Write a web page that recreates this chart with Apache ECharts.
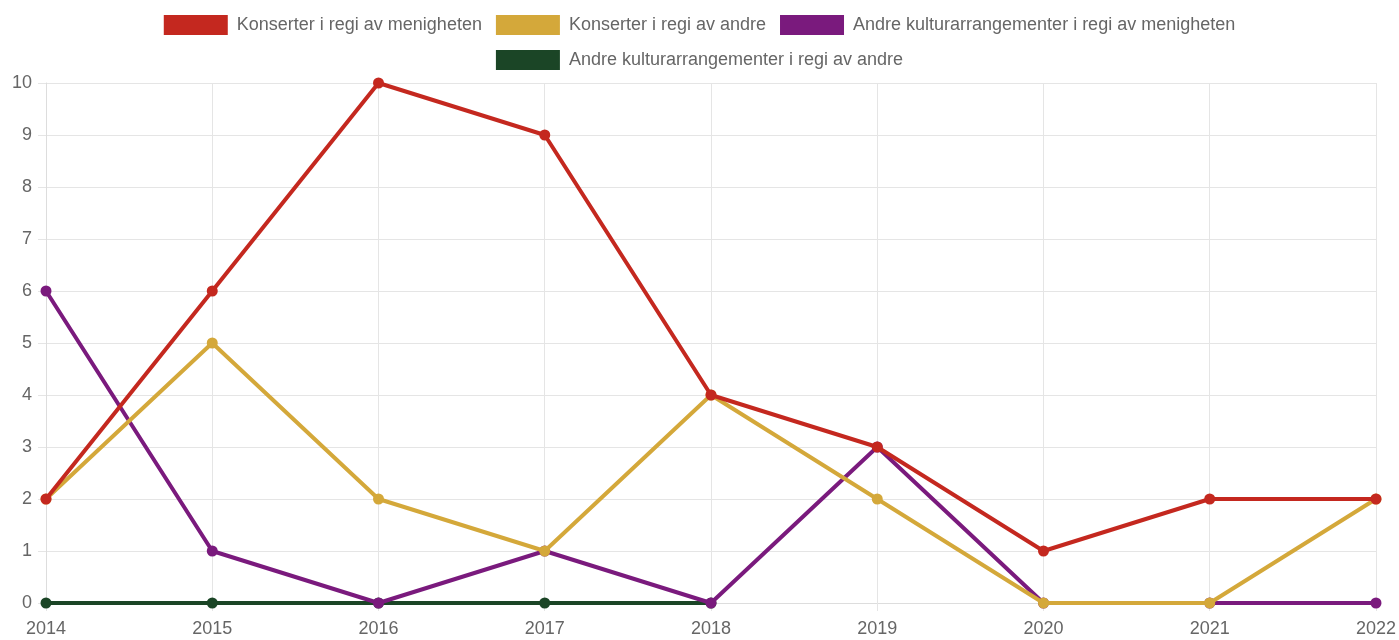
<!DOCTYPE html>
<html><head><meta charset="utf-8">
<script src="https://cdn.jsdelivr.net/npm/echarts@6/dist/echarts.min.js"></script>
<style>html,body{margin:0;padding:0;background:#fff}#c{width:1399px;height:640px}</style>
</head><body><div id="c"></div>
<script>
const years = ['2014','2015','2016','2017','2018','2019','2020','2021','2022'];
const names = ['Konserter i regi av menigheten','Konserter i regi av andre','Andre kulturarrangementer i regi av menigheten','Andre kulturarrangementer i regi av andre'];
const konserterMenigheten = [2,6,10,9,4,3,1,2,2];
const konserterAndre = [2,5,2,1,4,2,0,0,2];
const andreMenigheten = [6,1,0,1,0,3,0,0,0];
const andreAndre = [0,0,0,0,0,null,null,null,null];
const colors = ['#c4281f','#d4a83a','#7a1a7d','#1b4526'];
const font = 'Liberation Sans, Arial, sans-serif';
const chart = echarts.init(document.getElementById('c'));
function ser(i, data, z){
  return {name:names[i], type:'line', data:data, z:z, symbol:'circle', symbolSize:11,
    lineStyle:{width:4,color:colors[i]}, itemStyle:{color:colors[i]}, showSymbol:true, connectNulls:false, animation:false};
}
const legendCommon = {itemWidth:64,itemHeight:20,itemGap:14,icon:'rect',
  textStyle:{color:'#666',fontSize:18,fontFamily:font,padding:[0,0,0,4]}};
chart.setOption({
  animation:false,
  color:colors,
  legend:[
    Object.assign({data:[names[0],names[1],names[2]],top:10,left:'center'},legendCommon),
    Object.assign({data:[names[3]],top:45,left:'center'},legendCommon)
  ],
  grid:{left:46,right:23,top:83,bottom:37,containLabel:false},
  xAxis:{type:'category',data:years,boundaryGap:false,
    axisLine:{show:true,lineStyle:{color:'#ddd'}},
    axisTick:{show:true,length:8,lineStyle:{color:'#e5e5e5'},alignWithLabel:true},
    axisLabel:{color:'#666',fontSize:18,fontFamily:font,margin:17},
    splitLine:{show:true,lineStyle:{color:'#e5e5e5'}}},
  yAxis:{type:'value',min:0,max:10,interval:1,
    axisLine:{show:true,lineStyle:{color:'#ddd'}},
    axisTick:{show:true,length:8,lineStyle:{color:'#e5e5e5'}},
    axisLabel:{color:'#666',fontSize:18,fontFamily:font,margin:14},
    splitLine:{show:true,lineStyle:{color:'#e5e5e5'}}},
  series:[
    ser(3, andreAndre, 2),
    ser(2, andreMenigheten, 3),
    ser(1, konserterAndre, 4),
    ser(0, konserterMenigheten, 5)
  ]
});
</script></body></html>
